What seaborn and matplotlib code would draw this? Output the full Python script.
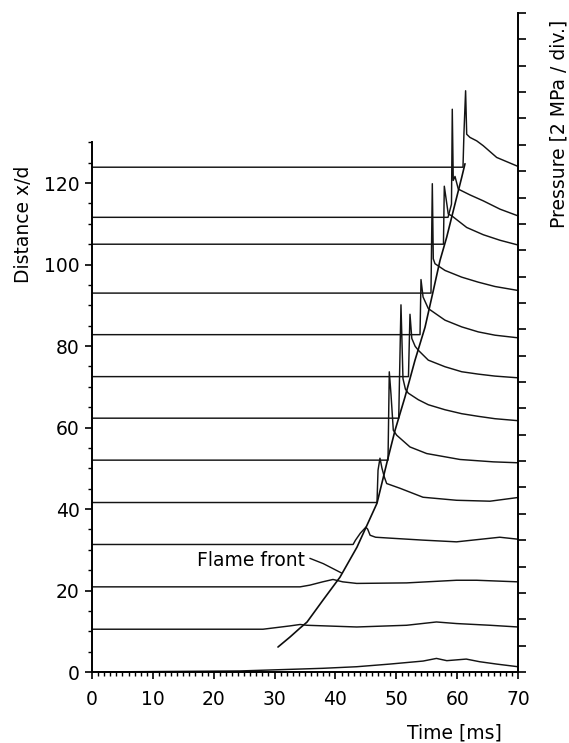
import numpy as np
import pandas as pd
import matplotlib
matplotlib.use("Agg")
import matplotlib.pyplot as plt
from matplotlib.ticker import MultipleLocator, FixedLocator
import seaborn as sns

# sensor positions x/d (baseline of each pressure trace)
distances = [0, 10.5, 20.9, 31.3, 41.6, 52.0, 62.3, 72.5, 82.8, 93.0, 105.0, 111.6, 123.9]

# pressure traces: time [ms], pressure [MPa] above baseline
t01 = [0, 24.3, 32.5, 37.9, 43.5, 48.9, 54.4, 56.6, 58.3, 61.5, 63.7, 66.5, 70]
p01 = [0, 0.08, 0.2, 0.28, 0.4, 0.6, 0.83, 1.03, 0.86, 0.98, 0.78, 0.6, 0.4]
t02 = [0, 28.1, 32.5, 34.2, 35.3, 43.5, 51.7, 56.6, 59.9, 65.4, 70]
p02 = [0, 0, 0.25, 0.36, 0.3, 0.17, 0.3, 0.55, 0.43, 0.3, 0.17]
t03 = [0, 34.2, 35.8, 37.9, 39.6, 41.2, 43.5, 51.7, 59.9, 63.2, 70]
p03 = [0, 0, 0.13, 0.38, 0.56, 0.38, 0.26, 0.3, 0.5, 0.5, 0.38]
t04 = [0, 42.9, 43.3, 44.1, 45.0, 45.3, 45.7, 46.6, 49.0, 54.4, 59.9, 67.0, 70]
p04 = [0, 0, 0.33, 0.86, 1.31, 1.16, 0.7, 0.55, 0.48, 0.33, 0.2, 0.55, 0.4]
t05 = [0, 46.83, 47.0, 47.32, 47.65, 48.03, 48.42, 50.61, 54.39, 59.9, 65.4, 70]
p05 = [0, 0, 2.45, 3.36, 2.6, 1.94, 1.44, 1.08, 0.4, 0.17, 0.1, 0.38]
t06 = [0, 48.64, 48.85, 49.13, 49.51, 50.07, 52.25, 55.0, 60.47, 65.94, 70]
p06 = [0, 0, 6.7, 5.0, 2.27, 1.89, 1.0, 0.5, 0.05, -0.13, -0.2]
t07 = [0, 50.4, 50.77, 51.1, 51.5, 51.97, 53.62, 55.26, 58.0, 60.75, 63.47, 66.22, 70]
p07 = [0, 0, 8.6, 3.0, 2.2, 1.9, 1.4, 1.02, 0.64, 0.34, 0.14, -0.04, -0.19]
t08 = [0, 52.0, 52.25, 52.55, 53.1, 53.62, 55.26, 58.0, 60.75, 63.47, 66.22, 70]
p08 = [0, 0, 4.73, 2.9, 2.3, 2.0, 1.25, 0.75, 0.37, 0.19, 0.04, -0.09]
t09 = [0, 53.9, 54.06, 54.4, 55.26, 58.0, 60.75, 63.47, 66.22, 70]
p09 = [0, 0, 4.18, 2.86, 1.98, 1.1, 0.59, 0.21, -0.04, -0.24]
t10 = [0, 55.7, 55.92, 56.08, 56.36, 58.0, 60.75, 63.47, 66.22, 70]
p10 = [0, 0, 8.3, 2.6, 2.23, 1.72, 1.21, 0.83, 0.5, 0.2]
t11 = [0, 57.75, 57.89, 58.54, 59.1, 61.57, 64.29, 67.04, 70]
p11 = [0, 0, 4.4, 2.29, 2.16, 1.27, 0.72, 0.3, -0.06]
t12 = [0, 58.5, 59.07, 59.2, 59.36, 59.65, 60.19, 62.11, 64.29, 67.04, 70]
p12 = [0, 0, 1.0, 8.2, 2.8, 3.1, 2.14, 1.7, 1.25, 0.62, 0.11]
t13 = [0, 60.96, 61.12, 61.39, 61.57, 62.11, 63.21, 64.29, 66.5, 70]
p13 = [0, 0, 2.6, 5.8, 2.5, 2.26, 2.0, 1.63, 0.74, 0.06]

times = [t01, t02, t03, t04, t05, t06, t07, t08, t09, t10, t11, t12, t13]
pressures = [p01, p02, p03, p04, p05, p06, p07, p08, p09, p10, p11, p12, p13]

# flame front trajectory (time [ms], x/d)
flame_t = [30.56, 32.53, 34.18, 35.33, 37.96, 40.75, 43.54, 46.83, 48.47, 49.79,
           51.43, 53.07, 54.72, 56.08, 57.18, 58.28, 59.65, 60.75, 61.29]
flame_d = [6.13, 8.58, 10.78, 12.25, 17.65, 23.28, 30.64, 41.42, 51.47, 59.3,
           67.5, 76.5, 84.6, 93.6, 101.0, 106.7, 114.9, 121.4, 124.75]

# annotation leader
leader_t = [35.8, 38.0, 41.0]
leader_d = [27.9, 26.6, 24.3]

sns.set_theme(style="ticks")
plt.rcParams['font.family'] = ['DejaVu Sans']
plt.rcParams['font.size'] = 13.5
plt.rcParams['text.color'] = 'black'

P_TOP = 50.0       # MPa at top of right axis (25 div x 2 MPa)
Y_TOP = 161.75     # same height on the x/d scale
scale = Y_TOP / P_TOP

rows = []
for i, (tt, pp) in enumerate(zip(times, pressures)):
    for a, b in zip(tt, pp):
        rows.append({'trace': i, 't': a, 'y': distances[i] + b * scale})
df = pd.DataFrame(rows)

fig = plt.figure(figsize=(5.69, 7.43), dpi=100)
ax = fig.add_axes([92 / 569, 1 - 672 / 743, 426 / 569, 659 / 743])

sns.lineplot(data=df, x='t', y='y', units='trace', estimator=None, sort=False,
             color='#141414', lw=1.05, ax=ax)
sns.lineplot(x=flame_t, y=flame_d, sort=False, estimator=None, color='#0d0d0d', lw=1.2, ax=ax)
ax.plot(leader_t, leader_d, color='#111111', lw=1.0)
ax.text(17.2, 27.4, 'Flame front', fontsize=13.5, va='center', ha='left', color='black')

ax.set_xlim(0, 70)
ax.set_ylim(0, Y_TOP)
ax.set_xlabel('')
ax.set_ylabel('')
ax.xaxis.set_major_locator(MultipleLocator(10))
ax.xaxis.set_minor_locator(MultipleLocator(1))
ax.yaxis.set_major_locator(FixedLocator(np.arange(0, 121, 20)))
ax.yaxis.set_minor_locator(FixedLocator(np.arange(0, 131, 5)))
ax.tick_params(axis='both', which='major', direction='out', length=5, width=1.2,
               labelsize=13.5, color='black', labelcolor='black')
ax.tick_params(axis='both', which='minor', direction='out', length=3, width=1.0, color='black')
ax.tick_params(axis='x', which='major', pad=8)
ax.tick_params(axis='y', which='major', pad=4)
for s in ['top', 'right']:
    ax.spines[s].set_visible(False)
for s in ['left', 'bottom']:
    ax.spines[s].set_linewidth(1.4)
    ax.spines[s].set_color('black')
ax.spines['left'].set_bounds(0, 130)

ax2 = ax.twinx()
ax2.set_ylim(0, P_TOP)
ax2.yaxis.set_major_locator(MultipleLocator(2))
ax2.tick_params(axis='y', which='major', direction='out', length=6, width=1.2,
                labelright=False, color='black')
for s in ['top', 'left', 'bottom']:
    ax2.spines[s].set_visible(False)
ax2.spines['right'].set_linewidth(1.4)
ax2.spines['right'].set_color('black')

fig.text(24 / 569, 1 - 224 / 743, 'Distance x/d', rotation=90, ha='center', va='center', fontsize=13.5)
fig.text(559 / 569, 1 - 124 / 743, 'Pressure [2 MPa / div.]', rotation=90, ha='center', va='center', fontsize=13.5)
fig.text(454 / 569, 1 - 733 / 743, 'Time [ms]', ha='center', va='center', fontsize=13.5)

fig.savefig('out.png', dpi=100)
